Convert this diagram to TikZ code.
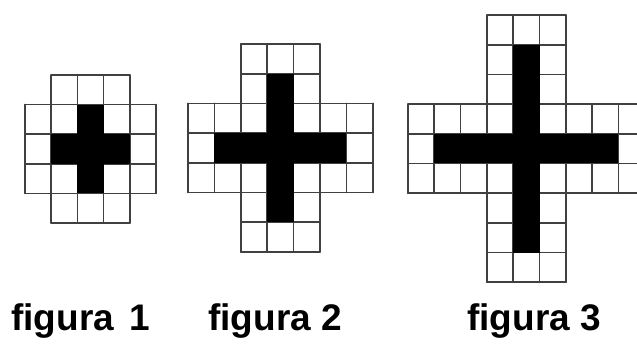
\documentclass[tikz,border=0pt]{standalone}
\usepackage{fontspec}
\setmainfont{Liberation Sans}

\begin{document}
\begin{tikzpicture}[x=1pt, y=-1pt,
        cellline/.style={draw=black!75, line width=1.7pt, line cap=round},
        cross/.style={fill=black},
        figlabel/.style={anchor=base west, inner sep=0pt, font=\fontsize{37}{37}\selectfont\bfseries}
    ]
    \useasboundingbox (0,0) rectangle (637,344);
    \clip (0,0) rectangle (637,344);

    % Figures: k, origin, cell width, cell height
    \foreach \k/\ox/\oy/\w/\h in {1/25/75/26.2pt/29.6pt, 2/188/44/26.4pt/29.7pt, 3/408/15/26.3pt/29.7pt} {
        \begin{scope}[shift={(\ox,\oy)}, x=\w, y=-\h]
            \pgfmathtruncatemacro{\n}{2*\k+3}
            \pgfmathtruncatemacro{\e}{\k+3}
            % vertical arm
            \foreach \c in {\k,...,\e} \draw[cellline] (\c,0) -- (\c,\n);
            \foreach \r in {0,...,\n} \draw[cellline] (\k,\r) -- (\e,\r);
            % horizontal arm
            \foreach \r in {\k,...,\e} \draw[cellline] (0,\r) -- (\n,\r);
            \foreach \c in {0,...,\n} \draw[cellline] (\c,\k) -- (\c,\e);
            % black cross
            \fill[cross] (\k+1,1) rectangle (\k+2,\n-1);
            \fill[cross] (1,\k+1) rectangle (\n-1,\k+2);
        \end{scope}
    }

    % Labels
    \node[figlabel] (fig1) at (11,331) {figura\hspace{5pt} 1};
    \node[figlabel] (fig2) at (208,331) {figura 2};
    \node[figlabel] (fig3) at (467,331) {figura 3};
\end{tikzpicture}
\end{document}
